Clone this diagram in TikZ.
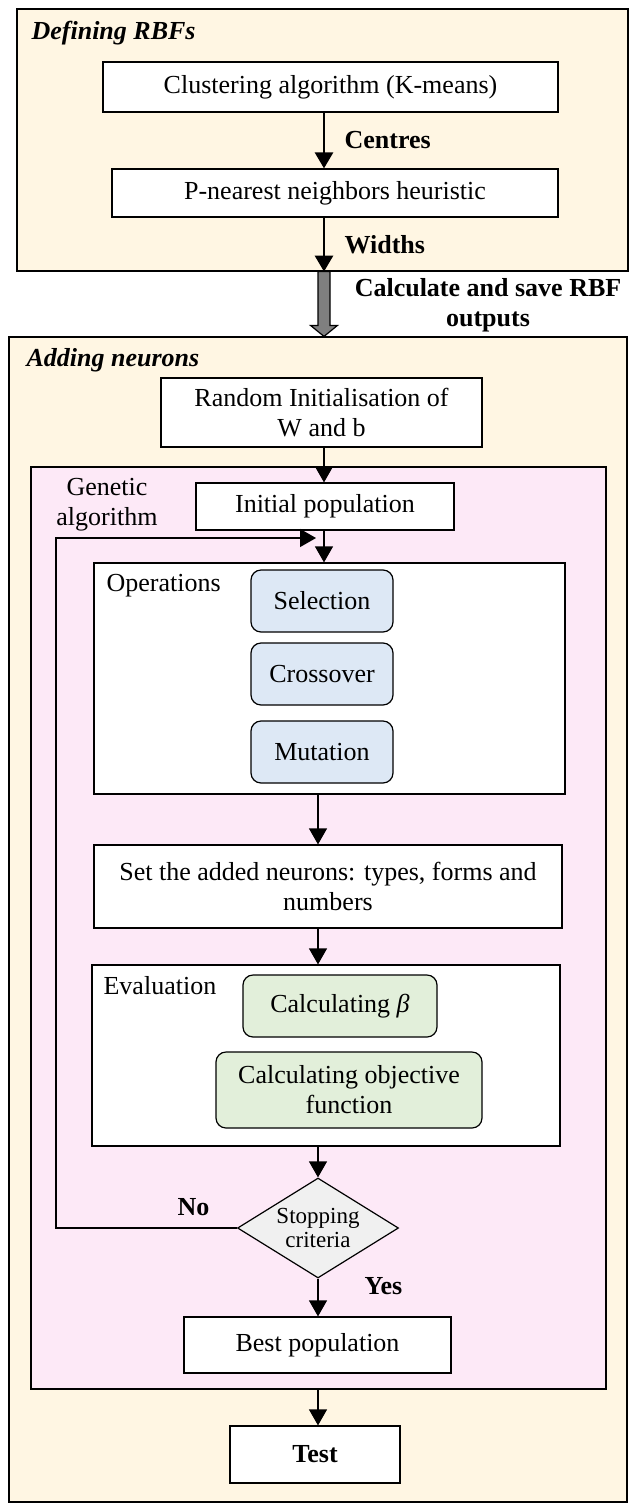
\documentclass[tikz,border=0pt]{standalone}
\usepackage{fontspec}
\setmainfont{Liberation Serif}
\usepackage{tikz}
\usetikzlibrary{arrows.meta}
\usetikzlibrary{shapes.geometric,calc}

\definecolor{cream}{HTML}{FFF6E3}
\definecolor{pinkish}{HTML}{FDE9F7}
\definecolor{opblue}{HTML}{DDE8F5}
\definecolor{evalgreen}{HTML}{E2EFDA}
\definecolor{stopgray}{HTML}{F0F0F0}
\definecolor{arrowgray}{HTML}{7F7F7F}

\begin{document}
\begin{tikzpicture}[x=0.5pt,y=-0.5pt,
    font=\fontsize{13}{15}\selectfont,
    every node/.style={inner sep=0pt, line width=0.6pt},
    frame/.style={draw, rectangle},
    plainbox/.style={draw, fill=white, align=center},
    opbox/.style={draw, fill=opblue, rounded corners=5pt, minimum width=71pt, minimum height=31pt},
    evbox/.style={draw, fill=evalgreen, rounded corners=5pt, align=center},
    flow/.style={line width=0.6pt, -{Triangle[length=8pt,width=9pt]}},
    bigflow/.style={line width=1.4pt, -{Triangle[length=8pt,width=9pt]}},
    lbl/.style={font=\fontsize{13}{15}\selectfont\bfseries},
    title/.style={anchor=west, font=\fontsize{13}{15}\selectfont\bfseries\itshape}]

            \useasboundingbox (0,0) rectangle (631,1505);
            \coordinate (upper) at (324,0);
            \coordinate (lower) at (318,0);

            % defining RBFs
            \node[frame, fill=cream, minimum width=305.5pt, minimum height=131pt] (rbf) at (322.5,140) {};
            \node[title] (rbftitle) at (31,33) {Defining RBFs};
            \node[plainbox, minimum width=227.5pt, minimum height=25pt] (kmeans) at (330.5,87) {Clustering algorithm (K-means)};
            \node[plainbox, minimum width=223pt, minimum height=24pt] (pnn) at (335,193) {P-nearest neighbors heuristic};
            \draw[bigflow] (kmeans.south -| upper) -- (pnn.north -| upper) node[midway, right=10pt, lbl] {Centres};
            \draw[bigflow] (pnn.south -| upper) -- (rbf.south -| upper) node[midway, right=10pt, lbl] {Widths};

            % adding neurons
            \node[frame, fill=cream, minimum width=309pt, minimum height=582.5pt] (add) at (318,919.5) {};
            \path (rbf.south -| upper) coordinate (gtop) (add.north -| upper) coordinate (gtip);
            \draw[line width=0.6pt, fill=arrowgray] ($(gtop)+(-6,0)$) -- ($(gtip)+(-6,-11)$) -- ($(gtip)+(-13.5,-11)$)
                -- (gtip) -- ($(gtip)+(13.5,-11)$) -- ($(gtip)+(6,-11)$) -- ($(gtop)+(6,0)$) -- cycle;
            \node[lbl, align=center] (calclbl) at (488,305) {Calculate and save RBF\\outputs};
            \node[title] (addtitle) at (26,360) {Adding neurons};
            \node[plainbox, minimum width=160.5pt, minimum height=34.5pt] (randinit) at (321.5,412.5) {Random Initialisation of\\W and b};

            % genetic algorithm
            \node[frame, fill=pinkish, minimum width=287.5pt, minimum height=461pt] (ga) at (318.5,928) {};
            \node[align=center] (galbl) at (107,505) {Genetic\\algorithm};
            \node[plainbox, minimum width=129pt, minimum height=23.5pt] (initpop) at (325,506.5) {Initial population};
            \draw[flow] (randinit.south -| upper) -- (initpop.north -| upper);

            \node[frame, fill=white, minimum width=235.5pt, minimum height=115.5pt] (ops) at (329.5,678.5) {};
            \node[anchor=west] (opslbl) at (106,586) {Operations};
            \foreach \name/\y in {Selection/601,Crossover/674,Mutation/752}
            \node[opbox] (\name) at (322,\y) {\name};
            \draw[flow] (initpop.south -| upper) -- (ops.north -| upper);

            \node[plainbox, minimum width=234pt, minimum height=41.5pt] (setn) at (328,886.5) {Set the added neurons: types, forms and\\numbers};
            \draw[flow] (ops.south -| lower) -- (setn.north -| lower);

            \node[frame, fill=white, minimum width=234pt, minimum height=90.5pt] (eval) at (326,1055.5) {};
            \node[anchor=west] (evallbl) at (103,986) {Evaluation};
            \node[evbox, minimum width=97pt, minimum height=31pt] (beta) at (340,1006) {Calculating \textit{β}};
            \node[evbox, minimum width=133pt, minimum height=38pt] (objfn) at (349,1090) {Calculating objective\\function};
            \draw[flow] (setn.south -| lower) -- (eval.north -| lower);

            \node[diamond, aspect=1.6, draw, fill=stopgray, minimum width=80.5pt, minimum height=50pt, align=center,
                font=\fontsize{11.5}{12}\selectfont] (stop) at (318,1228) {Stopping\\criteria};
            \draw[flow] (eval.south -| lower) -- (stop.north);

            \node[plainbox, minimum width=133.5pt, minimum height=28pt] (best) at (317.5,1345) {Best population};
            \draw[flow] (stop.south) -- (best.north -| lower) node[pos=0.2, right=23pt, lbl] {Yes};

            \coordinate (loopleft) at (56,538);
            \coordinate (looptip) at (316,538);
            \draw[flow] (stop.west) -| (loopleft) node[pos=0.12, above=6pt, lbl] {No} -- (looptip);

            % test
            \node[plainbox, minimum width=85pt, minimum height=28.5pt, lbl] (test) at (315,1454.5) {Test};
            \draw[flow] (ga.south -| lower) -- (test.north -| lower);
        \end{tikzpicture}
\end{document}
